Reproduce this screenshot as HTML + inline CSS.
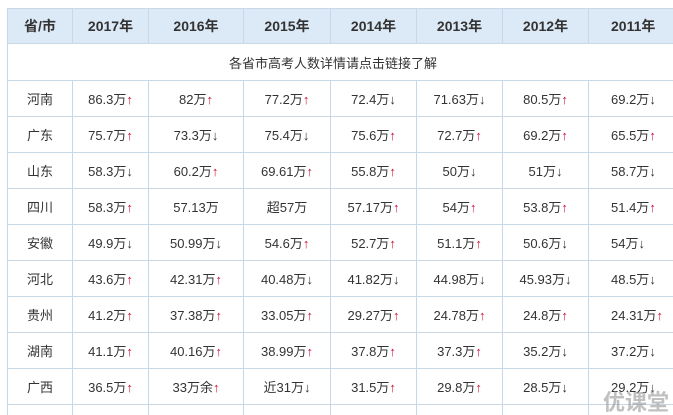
<!DOCTYPE html>
<html style="overflow:hidden;width:673px;height:415px"><head><meta charset="utf-8"><style>
html,body{margin:0;background:#fff;width:673px;height:415px;overflow:hidden;}
body{font-family:"Liberation Sans","Noto Sans CJK SC",sans-serif;}
#wrap{position:relative;width:673px;height:415px;overflow:hidden}
table{position:absolute;left:7px;top:8px;border-collapse:collapse;table-layout:fixed;width:700px;}
td,th{border:1px solid #c8d8e6;text-align:center;font-size:13px;color:#333;padding:0;height:35px;white-space:nowrap;overflow:hidden}
th{background:#dce9f6;font-weight:bold;font-size:14px;height:34px}
.u{color:#d0103a}.d{color:#333}
.wm{position:absolute;right:4px;bottom:-2px;font-size:22px;font-weight:bold;color:rgba(150,150,150,.6)}
</style></head><body>
<div id="wrap">
<table>
<colgroup><col style="width:65px"><col style="width:76px"><col style="width:95px"><col style="width:87px"><col style="width:86px"><col style="width:86px"><col style="width:86px"><col style="width:119px"></colgroup>
<tr><th>省/市</th><th>2017年</th><th>2016年</th><th>2015年</th><th>2014年</th><th>2013年</th><th>2012年</th><th style="text-align:left;padding-left:22px">2011年</th></tr>
<tr><td colspan="8" style="text-align:left;padding-left:221px;height:36px">各省市高考人数详情请点击链接了解</td></tr>
<tbody id="tb"></tbody>
</table>
<div class="wm">优课堂</div>
</div>
<script>
const provinces=["河南","广东","山东","四川","安徽","河北","贵州","湖南","广西",""];
const rows=[
["86.3万↑","82万↑","77.2万↑","72.4万↓","71.63万↓","80.5万↑","69.2万↓"],
["75.7万↑","73.3万↓","75.4万↓","75.6万↑","72.7万↑","69.2万↑","65.5万↑"],
["58.3万↓","60.2万↑","69.61万↑","55.8万↑","50万↓","51万↓","58.7万↓"],
["58.3万↑","57.13万","超57万","57.17万↑","54万↑","53.8万↑","51.4万↑"],
["49.9万↓","50.99万↓","54.6万↑","52.7万↑","51.1万↑","50.6万↓","54万↓"],
["43.6万↑","42.31万↑","40.48万↓","41.82万↓","44.98万↓","45.93万↓","48.5万↓"],
["41.2万↑","37.38万↑","33.05万↑","29.27万↑","24.78万↑","24.8万↑","24.31万↑"],
["41.1万↑","40.16万↑","38.99万↑","37.8万↑","37.3万↑","35.2万↓","37.2万↓"],
["36.5万↑","33万余↑","近31万↓","31.5万↑","29.8万↑","28.5万↓","29.2万↓"],
["","","","","","",""]];
const tb=document.getElementById('tb');
provinces.forEach((p,i)=>{
 const tr=document.createElement('tr');
 
 
 let h='<td>'+p+'</td>';
 rows[i].forEach((v,j)=>{
  let t=v.replace('↑','<span class="u">↑</span>').replace('↓','<span class="d">↓</span>');
  h+='<td'+(j==6?' style="text-align:left;padding-left:22px"':'')+'>'+t+'</td>';
 });
 tr.innerHTML=h;
 tb.appendChild(tr);
});
</script>
</body></html>
